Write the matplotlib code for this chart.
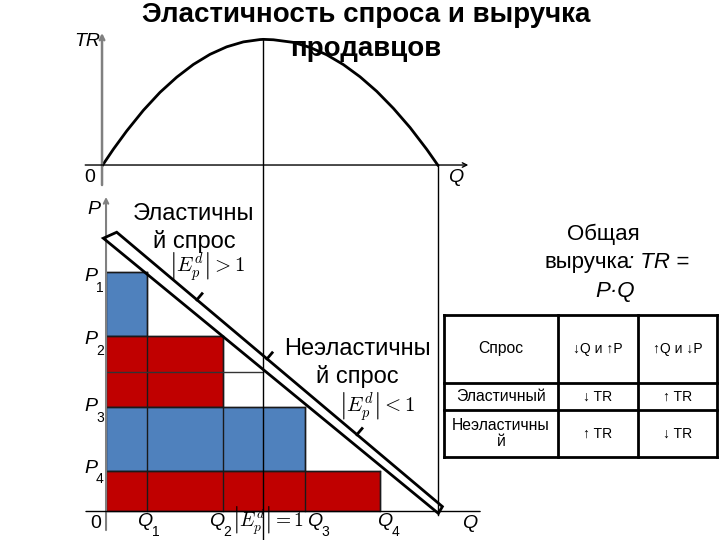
import numpy as np
import matplotlib
matplotlib.use('Agg')
import matplotlib.pyplot as plt
from matplotlib.patches import Polygon, Rectangle

plt.rcParams['font.family'] = ['Liberation Sans', 'DejaVu Sans']
plt.rcParams['mathtext.fontset'] = 'cm'

# ---------------- data ----------------
q_levels = [1.24, 3.50, 5.96, 8.20]          # Q1..Q4
p_levels = [8.75, 6.42, 3.83, 1.48]          # P1..P4
strip_colors = ['#4F81BD', '#C00000', '#4F81BD', '#C00000']
q_unit, p_unit = 4.70, 5.11                  # unit-elastic point
q_max = 9.94                                 # demand reaches zero
demand_lower_q = [-0.08, 9.95]
demand_lower_p = [9.99, -0.07]
demand_upper_q = [0.32, 10.07]
demand_upper_p = [10.21, 0.18]
tick_q = [2.72, 4.82, 7.51]
tick_p = [7.74, 5.58, 2.81]

tr_q = [0.02, 0.337, 0.734, 1.23, 1.726, 2.222, 2.718, 3.214, 3.71, 4.206,
        4.70, 4.80, 5.10, 5.694, 6.19, 6.687, 7.183, 7.679, 8.175, 8.671,
        9.167, 9.663, 9.99]
tr_vals = [0.0, 3.13, 6.75, 10.85, 14.42, 17.42, 19.95, 21.96, 23.45, 24.43,
           24.89, 24.93, 24.85, 24.33, 23.33, 21.87, 19.92, 17.5, 14.62, 11.24,
           7.43, 3.11, 0.0]

sub_labels = ['1', '2', '3', '4']
table_header = ['Спрос', '↓Q и ↑P', '↑Q и ↓P']
table_rows = [['Эластичный', '↓ TR', '↑ TR'],
              ['Неэластичны\nй', '↑ TR', '↓ TR']]

# ---------------- figure ----------------
fig = plt.figure(figsize=(7.2, 5.4), dpi=100)

axt = fig.add_axes([0, 0, 1, 1])
axt.set_xlim(-3.036, 18.39)
axt.set_ylim(-74.4, 32.74)
axt.axis('off')
axt.patch.set_visible(False)

axb = fig.add_axes([0, 0, 1, 1])
axb.set_xlim(-3.174, 18.38)
axb.set_ylim(-1.042, 18.70)
axb.axis('off')
axb.patch.set_visible(False)

axp = fig.add_axes([0, 0, 1, 1])
axp.set_xlim(0, 720)
axp.set_ylim(540, 0)
axp.axis('off')
axp.patch.set_visible(False)

# ---------------- top chart (TR) ----------------
axt.plot(tr_q, tr_vals, color='black', lw=2, solid_joinstyle='round', zorder=3)
axt.annotate('', xy=(0, 26.2), xytext=(0, -3.97),
             arrowprops=dict(arrowstyle='->', color='#808080', lw=1.8,
                             shrinkA=0, shrinkB=0, mutation_scale=8))
axt.annotate('', xy=(10.9, 0), xytext=(-0.5, 0),
             arrowprops=dict(arrowstyle='->', color='black', lw=1,
                             shrinkA=0, shrinkB=0, mutation_scale=8))

# ---------------- bottom chart ----------------
bottoms = p_levels[1:] + [0]
heights = [p - b for p, b in zip(p_levels, bottoms)]
axb.barh(bottoms, q_levels, height=heights, left=0, align='edge',
         color=strip_colors, edgecolor='#1a1a2a', lw=1, zorder=2)
for q, p in zip(q_levels, p_levels):
    axb.plot([q, q], [0, p], color='#1a1a1a', lw=1, zorder=3)
    axb.plot([0, q], [p, p], color='#1a1a1a', lw=1, zorder=3)
axb.plot([0, q_unit], [p_unit, p_unit], color='#333333', lw=1, zorder=3)

# long vertical guide lines
axb.plot([q_unit, q_unit], [17.27, -1.05], color='black', lw=1, zorder=3)
axb.plot([q_max, q_max], [12.67, -0.13], color='black', lw=1, zorder=3)

# axes
axb.annotate('', xy=(0, 11.5), xytext=(0, -0.68),
             arrowprops=dict(arrowstyle='->', color='#808080', lw=1.5,
                             shrinkA=0, shrinkB=0, mutation_scale=8), zorder=4)
axb.annotate('', xy=(11.2, 0), xytext=(-0.6, 0),
             arrowprops=dict(arrowstyle='-', color='black', lw=1,
                             shrinkA=0, shrinkB=0), zorder=4)

# demand band
band = Polygon([[demand_lower_q[0], demand_lower_p[0]],
                [demand_upper_q[0], demand_upper_p[0]],
                [demand_upper_q[1], demand_upper_p[1]],
                [demand_lower_q[1], demand_lower_p[1]]],
               closed=True, fill=False, edgecolor='black', lw=2, zorder=5)
axb.add_patch(band)

# perpendicular ticks on band
fig.canvas.draw()
tD = axb.transData
a = tD.transform((demand_upper_q[0], demand_upper_p[0]))
b = tD.transform((demand_upper_q[1], demand_upper_p[1]))
d = (b - a) / np.hypot(*(b - a))
n = np.array([-d[1], d[0]])
for q, p in zip(tick_q, tick_p):
    s = tD.transform((q, p))
    e = s + 8 * n
    pts = tD.inverted().transform([s, e])
    axb.plot(pts[:, 0], pts[:, 1], color='black', lw=2, zorder=5)

# ---------------- texts ----------------
axp.text(366, 22, 'Эластичность спроса и выручка', fontsize=20,
         fontweight='bold', ha='center', va='baseline')
axp.text(366, 55.5, 'продавцов', fontsize=20, fontweight='bold',
         ha='center', va='baseline')

lab = dict(fontsize=14, style='italic', ha='center', va='center')
axp.text(87, 42, 'TR', **lab)
axp.text(90, 178, '0', fontsize=14, ha='center', va='center')
axp.text(456, 178, 'Q', **lab)
axp.text(94, 210, 'P', **lab)
axp.text(96, 524, '0', fontsize=14, ha='center', va='center')
axp.text(470, 524, 'Q', **lab)

p_lab_y = [276.7, 340, 406.7, 468.3]
for y, s in zip(p_lab_y, sub_labels):
    axp.text(91, y, 'P', **lab)
    axp.text(100, y + 11, s, fontsize=10, ha='center', va='center')
q_lab_x = [145, 216.7, 314.5, 385]
for x, s in zip(q_lab_x, sub_labels):
    axp.text(x, 522, 'Q', **lab)
    axp.text(x + 10.5, 532, s, fontsize=10, ha='center', va='center')

big = dict(fontsize=17, ha='center', va='baseline')
axp.text(194, 220, 'Эластичны', **big)
axp.text(194, 248.3, 'й спрос', **big)
axp.text(357, 355, 'Неэластичны', **big)
axp.text(357, 383.3, 'й спрос', **big)

axp.text(207, 267, r'$\left|E_{p}^{d}\right| > 1$', fontsize=15,
         ha='center', va='center')
axp.text(377, 407, r'$\left|E_{p}^{d}\right| < 1$', fontsize=15,
         ha='center', va='center')
axp.text(268, 521, r'$\left|E_{p}^{d}\right| = 1$', fontsize=14,
         ha='center', va='center')

axp.text(603, 240, 'Общая', fontsize=16, ha='center', va='baseline')
axp.text(545, 268.3, 'выручка', fontsize=16, ha='left', va='baseline')
axp.text(689, 268.3, ': TR =', fontsize=16, style='italic', ha='right',
         va='baseline')
axp.text(615, 296.7, 'P·Q', fontsize=16, style='italic', ha='center',
         va='baseline')

# ---------------- table ----------------
col_x = [444, 558, 637.7, 717]
row_y = [315, 382.7, 410, 457]
for x in col_x:
    axp.plot([x, x], [row_y[0], row_y[-1]], color='black', lw=2,
             solid_capstyle='projecting')
for y in row_y:
    axp.plot([col_x[0], col_x[-1]], [y, y], color='black', lw=2,
             solid_capstyle='projecting')
cells = [table_header] + table_rows
for r, row in enumerate(cells):
    yc = (row_y[r] + row_y[r + 1]) / 2
    for c, txt in enumerate(row):
        xc = (col_x[c] + col_x[c + 1]) / 2
        fs = 11.3 if c == 0 else 10
        axp.text(xc, yc, txt, fontsize=fs, ha='center', va='center',
                 linespacing=1.1)

fig.savefig('out.png', dpi=100)
